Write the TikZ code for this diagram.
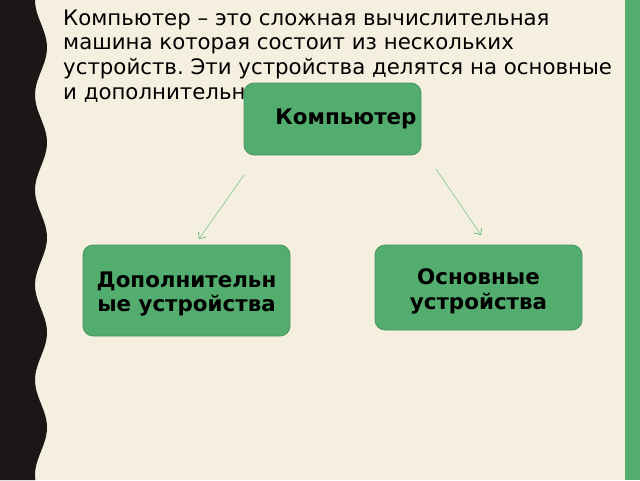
\documentclass[tikz,border=0pt]{standalone}
\usepackage{fontspec}
\setmainfont{DejaVu Sans}
\usetikzlibrary{arrows.meta}
\definecolor{bgcream}{HTML}{F5EFDF}
\definecolor{darkband}{HTML}{1A1716}
\definecolor{boxgreen}{HTML}{53AD6E}
\definecolor{boxedge}{HTML}{4A9461}
\definecolor{arrowgreen}{HTML}{8FC9A0}
\definecolor{arrowhead}{HTML}{5FB27A}
\frenchspacing
\tikzset{
  greenbox/.style={draw=boxedge, line width=0.8pt, fill=boxgreen, rounded corners=10pt, inner sep=0pt},
  boxtext/.style={font=\fontsize{21.4}{25.5}\selectfont\bfseries, text=black, anchor=base, inner sep=0pt},
  bodytext/.style={font=\fontsize{21.3}{24.7}\selectfont, text=black, anchor=base west, inner sep=0pt},
  connector/.style={draw=arrowgreen, line width=0.7pt, -{Straight Barb[length=5pt,width=9pt,color=arrowhead]}}
}
\begin{document}
\begin{tikzpicture}[x=1pt,y=-1pt]
\useasboundingbox (0,0) rectangle (640,480);
\fill[bgcream] (0,0) rectangle (640,480);
% right green band
\fill[boxgreen] (625,0) rectangle (640,480);
% left dark wavy band
\fill[darkband] (0,0) -- plot[domain=0:480, samples=120, smooth] ({41-6*cos((\x/95)*360)}, \x) -- (0,480) -- cycle;
% body text
\node[bodytext] (body1) at (63,25) {Компьютер – это сложная вычислительная};
\node[bodytext] (body2) at (63,49.7) {машина которая состоит из нескольких};
\node[bodytext] (body3) at (63,74.4) {устройств. Эти устройства делятся на основные};
\node[bodytext] (body4) at (63,99) {и дополнительные.};
% boxes
\node[greenbox, minimum width=177pt, minimum height=72pt] (komp) at (332.5,119) {};
\node[boxtext] (komptext) at (346,124) {Компьютер};
\node[greenbox, minimum width=207pt, minimum height=91pt] (dop) at (186.5,290.5) {};
\node[boxtext] (doptext1) at (186.5,287) {Дополнительн};
\node[boxtext] (doptext2) at (186.5,311.5) {ые устройства};
\node[greenbox, minimum width=207pt, minimum height=85pt] (osn) at (478.5,287.5) {};
\node[boxtext] (osntext1) at (478.5,284) {Основные};
\node[boxtext] (osntext2) at (478.5,309) {устройства};
% connectors
\coordinate (a1s) at (244,175);
\coordinate (a1e) at (199,239);
\coordinate (a2s) at (436,169);
\coordinate (a2e) at (481,235);
\draw[connector] (a1s) -- (a1e);
\draw[connector] (a2s) -- (a2e);
\end{tikzpicture}
\end{document}
